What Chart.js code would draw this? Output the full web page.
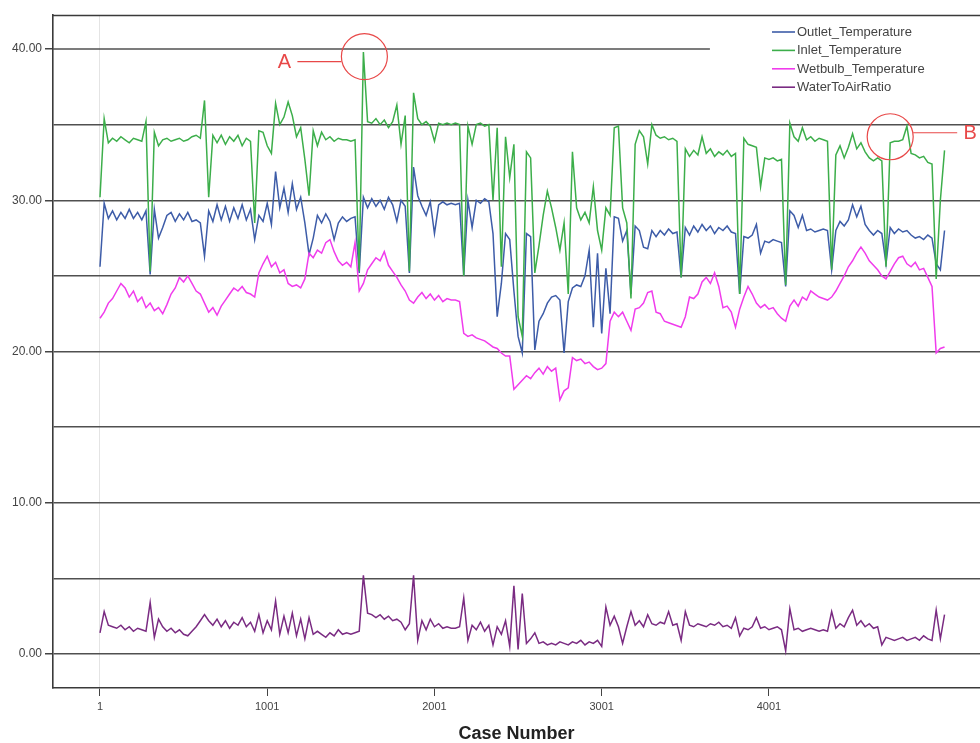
<!DOCTYPE html>
<html>
<head>
<meta charset="utf-8">
<script src="https://cdn.jsdelivr.net/npm/chart.js@4.4.1/dist/chart.umd.min.js"></script>
<style>
html,body{margin:0;padding:0;background:#fff;}
#wrap{width:980px;height:743px;position:relative;}
</style>
</head>
<body>
<div id="wrap"><canvas id="c" width="980" height="743"></canvas></div>
<script>
// Cases are sampled every 25 records, starting at case 1
const caseStart = 1;
const caseStep = 25;

const xTickValues = [1, 1001, 2001, 3001, 4001];
const yGridValues = [0, 5, 10, 15, 20, 25, 30, 35, 40];

const seriesNames = ['Outlet_Temperature', 'Inlet_Temperature', 'Wetbulb_Temperature', 'WaterToAirRatio'];

const outletTemperature = [
  25.6,29.8,28.8,29.3,28.7,29.2,28.8,29.4,28.8,29.2,28.7,29.3,25.1,29.4,27.5,28.2,29.0,29.2,28.6,29.1,
  28.7,29.2,28.6,28.7,28.5,26.3,29.3,28.6,29.7,28.7,29.6,28.6,29.5,28.8,29.7,28.7,29.4,27.4,29.0,28.6,
  29.8,28.4,31.9,29.5,30.8,29.2,31.1,29.4,30.2,28.5,26.4,27.5,29.0,28.5,29.1,28.6,27.4,28.5,28.9,28.6,
  28.8,28.9,25.2,30.2,29.5,30.1,29.6,30.0,29.4,30.2,29.7,28.6,30.0,29.6,25.2,32.2,30.3,29.6,29.0,29.9,
  27.8,29.7,29.9,29.7,29.8,29.7,29.8,25.0,30.0,28.2,30.0,29.8,30.1,29.9,27.8,22.3,24.5,27.8,27.4,24.0,
  21.0,19.9,27.8,27.6,20.1,22.0,22.5,23.2,23.6,23.7,23.4,19.9,23.3,24.2,24.4,24.3,25.0,26.7,21.6,26.5,
  21.2,25.5,22.5,28.9,28.8,27.3,28.0,23.8,28.3,28.0,26.9,26.8,28.0,27.6,28.0,27.7,28.1,27.8,27.9,24.9,
  28.2,27.7,28.3,27.9,28.4,28.0,28.3,27.8,28.2,28.0,28.3,27.9,27.8,23.8,27.6,27.5,27.7,28.4,26.5,27.3,
  27.2,27.4,27.3,27.2,24.3,29.3,29.0,28.2,29.0,28.0,28.1,27.9,28.0,28.1,28.0,25.4,28.0,28.6,28.3,28.7,
  29.7,28.9,29.6,28.4,28.0,27.7,28.0,27.8,25.8,28.2,27.8,28.1,27.9,28.0,27.7,27.5,27.6,27.4,27.7,27.5,
  25.8,25.4,28.0
];

const inletTemperature = [
  30.2,35.4,33.8,34.1,33.9,34.2,34.0,33.8,34.1,34.0,33.9,35.2,25.3,34.5,33.6,34.0,34.1,33.9,34.0,34.1,
  33.9,34.0,34.2,34.3,34.1,36.6,30.2,34.3,33.8,34.3,33.7,34.2,33.9,34.3,33.6,34.1,33.9,28.5,34.6,34.5,
  33.6,33.1,36.4,35.0,35.5,36.5,35.6,34.2,34.8,32.7,30.3,34.6,33.6,34.5,34.0,34.2,33.9,34.1,34.0,34.0,
  33.9,34.0,25.3,39.8,35.2,35.1,35.4,35.0,35.3,34.8,35.2,36.3,33.7,35.6,25.3,37.1,35.4,35.0,35.2,34.9,
  33.9,35.1,35.0,35.1,35.0,35.1,35.0,25.0,34.9,33.7,35.0,35.1,34.9,35.0,30.0,34.8,25.6,34.2,31.5,33.7,
  22.3,21.0,33.2,32.8,25.2,27.0,29.0,30.6,29.5,28.2,26.7,28.5,23.8,33.2,29.5,28.7,29.2,28.5,30.9,28.0,
  26.7,29.5,29.0,34.8,34.9,29.5,28.5,23.5,33.7,34.6,34.2,32.4,35.0,34.3,34.1,34.2,34.0,34.1,33.9,24.9,
  33.4,32.9,33.3,33.0,34.2,33.1,33.4,32.9,33.2,33.0,33.3,32.9,33.1,23.8,34.1,33.7,33.6,33.5,30.9,32.8,
  32.7,32.8,32.6,32.7,24.4,35.1,34.2,33.9,34.8,34.0,34.2,33.9,34.1,34.0,33.9,25.4,33.0,33.6,32.8,33.5,
  34.4,33.4,33.8,33.2,32.8,32.6,32.8,32.6,25.6,33.8,33.9,33.9,34.0,34.9,33.1,33.0,32.8,32.9,32.5,32.4,
  24.8,30.0,33.3
];

const wetbulbTemperature = [
  22.2,22.6,23.2,23.5,24.0,24.5,24.2,23.6,24.0,23.3,23.6,22.9,23.2,22.7,22.9,22.5,23.1,23.8,24.2,24.9,
  24.6,25.0,24.5,24.0,23.8,23.2,22.6,22.9,22.4,23.0,23.4,23.8,24.2,24.0,24.3,23.9,23.8,23.6,25.2,25.8,
  26.3,25.6,25.9,25.2,25.4,24.5,24.3,24.4,24.2,24.8,26.5,26.2,26.7,26.5,27.2,27.4,26.6,26.0,25.7,25.9,
  25.6,27.2,24.0,24.5,25.4,25.8,26.2,26.0,26.6,25.7,25.3,24.9,24.4,24.0,23.4,23.2,23.6,23.9,23.5,23.8,
  23.4,23.7,23.3,23.5,23.4,23.4,23.3,21.2,21.0,21.1,20.9,20.8,20.7,20.5,20.3,20.2,19.9,19.7,19.7,17.5,
  17.8,18.1,18.4,18.2,18.6,18.9,18.5,19.0,18.7,18.9,16.8,17.4,17.6,19.6,19.4,19.5,19.2,19.3,19.0,18.8,
  18.9,19.2,22.0,22.6,22.3,22.6,22.0,21.4,22.8,22.9,23.2,23.9,24.0,22.6,22.5,22.0,21.9,21.8,21.7,21.6,
  22.3,23.6,23.5,23.8,24.6,24.9,24.5,25.2,24.3,22.9,23.0,22.6,21.6,22.8,23.6,24.3,23.8,23.2,22.9,23.1,
  22.8,22.9,22.5,22.2,22.0,23.0,23.4,23.0,23.6,23.4,24.0,23.8,23.6,23.5,23.4,23.6,24.0,24.5,25.0,25.6,
  26.0,26.5,26.9,26.5,26.0,25.7,25.4,25.0,24.8,25.3,25.8,26.2,26.3,25.8,25.6,25.9,25.4,25.5,24.9,24.3,
  19.9,20.2,20.3
];

const waterToAirRatio = [
  1.4,2.8,1.9,1.8,1.7,1.9,1.6,1.8,1.5,1.7,1.6,1.5,3.4,1.1,2.3,1.8,1.5,1.7,1.4,1.6,
  1.3,1.2,1.5,1.8,2.2,2.6,2.2,1.9,2.3,1.8,2.2,1.7,2.1,1.9,2.4,1.8,2.1,1.5,2.6,1.4,
  2.2,1.6,3.5,1.3,2.5,1.4,2.7,1.2,2.3,1.0,2.4,1.3,1.5,1.3,1.1,1.4,1.2,1.6,1.3,1.4,
  1.3,1.4,1.5,5.2,2.7,2.6,2.4,2.6,2.3,2.5,2.2,2.3,2.1,1.6,2.0,5.2,0.9,2.2,1.6,2.3,
  1.8,2.0,1.7,1.8,1.7,1.7,1.8,3.7,0.9,1.9,1.6,2.1,1.5,1.9,0.6,1.8,1.3,2.2,0.5,4.5,
  0.3,4.0,0.7,1.0,1.4,0.7,0.8,0.6,0.7,0.6,0.8,0.7,0.6,0.8,0.7,0.9,0.6,0.8,0.7,0.9,
  0.5,3.1,1.9,2.5,1.8,0.7,1.8,2.8,1.9,2.2,1.8,2.6,2.0,1.9,2.1,2.0,2.8,1.9,2.0,0.9,
  2.8,1.9,1.8,2.0,1.9,1.8,2.0,1.9,2.1,1.8,1.9,1.7,2.4,1.2,1.7,1.6,1.8,2.4,1.7,1.8,
  1.6,1.7,1.8,1.6,0.2,3.0,1.6,1.7,1.5,1.6,1.7,1.6,1.5,1.6,1.5,2.8,1.7,2.0,1.8,2.4,
  2.9,1.9,2.2,1.8,2.0,1.7,1.8,0.6,1.1,1.0,0.9,1.0,1.1,0.9,1.0,1.1,0.9,1.2,1.0,0.9,
  2.9,1.0,2.6
];

const seriesColors = ['#3d5ca8', '#3cae4a', '#f03cec', '#7a2b82'];

// Reference line at 40 runs only part of the way across
const refLineValue = 40;
const refLineEndCase = 3648;

// Highlighted readings
const callouts = [
  { label: 'A', caseNo: 1582, value: 39.5, side: -1, dy: 5 },
  { label: 'B', caseNo: 4726, value: 34.2, side: 1, dy: -4 }
];

const caseNumbers = outletTemperature.map((_, i) => caseStart + i * caseStep);
const toPoints = vals => vals.map((v, i) => ({ x: caseNumbers[i], y: v }));

const FONT = "'Liberation Sans', Arial, sans-serif";

const frameAndNotes = {
  id: 'frameAndNotes',
  afterDatasetsDraw(chart) {
    const { ctx, chartArea: a, scales: { x, y } } = chart;
    ctx.save();
    // top frame line
    ctx.strokeStyle = '#3a3a3a';
    ctx.lineWidth = 1.6;
    ctx.beginPath();
    ctx.moveTo(a.left, a.top + 0.5);
    ctx.lineTo(a.right, a.top + 0.5);
    ctx.stroke();
    // partial reference line
    ctx.strokeStyle = '#505050';
    ctx.lineWidth = 1.5;
    const ry = y.getPixelForValue(refLineValue);
    ctx.beginPath();
    ctx.moveTo(a.left, ry);
    ctx.lineTo(x.getPixelForValue(refLineEndCase), ry);
    ctx.stroke();

    // callouts
    ctx.strokeStyle = 'rgb(232,72,72)';
    ctx.fillStyle = 'rgb(232,72,72)';
    ctx.lineWidth = 1.2;
    ctx.font = '20px ' + FONT;
    ctx.textAlign = 'center';
    ctx.textBaseline = 'middle';
    const r = 23;
    callouts.forEach(c => {
      const cx = x.getPixelForValue(c.caseNo);
      const cy = y.getPixelForValue(c.value);
      ctx.beginPath();
      ctx.arc(cx, cy, r, 0, Math.PI * 2);
      ctx.stroke();
      const ly = cy + c.dy;
      const x0 = cx + c.side * r;
      const x1 = x0 + c.side * 44;
      ctx.beginPath();
      ctx.moveTo(x0, ly);
      ctx.lineTo(x1, ly);
      ctx.stroke();
      ctx.fillText(c.label, x1 + c.side * 13, ly + 1);
    });

    // legend
    ctx.font = '13px ' + FONT;
    ctx.textAlign = 'left';
    ctx.textBaseline = 'middle';
    const lx = 772, ly0 = 32, step = 18.4;
    seriesNames.forEach((name, i) => {
      const yy = ly0 + i * step;
      ctx.strokeStyle = seriesColors[i];
      ctx.lineWidth = 1.6;
      ctx.beginPath();
      ctx.moveTo(lx, yy);
      ctx.lineTo(lx + 23, yy);
      ctx.stroke();
      ctx.fillStyle = '#444';
      ctx.fillText(name, lx + 25, yy + 0.5);
    });
    ctx.restore();
  }
};

const seriesValues = [outletTemperature, inletTemperature, wetbulbTemperature, waterToAirRatio];
const drawOrder = [3, 2, 1, 0];

new Chart(document.getElementById('c'), {
  type: 'line',
  data: {
    datasets: seriesNames.map((name, i) => ({
      label: name,
      data: toPoints(seriesValues[i]),
      borderColor: seriesColors[i],
      backgroundColor: seriesColors[i],
      borderWidth: 1.5,
      pointRadius: 0,
      tension: 0,
      fill: false,
      order: drawOrder[i]
    }))
  },
  options: {
    responsive: false,
    animation: false,
    devicePixelRatio: 1,
    layout: { padding: { top: 15, right: 0, left: 0, bottom: 0 } },
    plugins: { legend: { display: false }, tooltip: { enabled: false } },
    scales: {
      x: {
        type: 'linear',
        min: -280,
        max: 5263,
        afterFit(s) { s.height = 55; },
        afterBuildTicks(s) { s.ticks = xTickValues.map(v => ({ value: v })); },
        ticks: {
          autoSkip: false,
          maxRotation: 0,
          padding: 4,
          color: '#444',
          font: { family: FONT, size: 11 },
          callback: v => String(v)
        },
        grid: {
          drawOnChartArea: true,
          color: c => (c.tick && c.tick.value === 1 ? '#e4e4e4' : 'rgba(0,0,0,0)'),
          tickColor: '#444',
          tickLength: 8,
          lineWidth: 1
        },
        border: { display: true, color: '#3a3a3a', width: 1.6 },
        title: {
          display: true,
          text: 'Case Number',
          color: '#222',
          font: { family: FONT, size: 18, weight: 'bold', lineHeight: 1 },
          padding: { top: 0, bottom: 0 }
        }
      },
      y: {
        type: 'linear',
        min: -2.25,
        max: 42.25,
        afterFit(s) { s.width = 53; },
        afterBuildTicks(s) { s.ticks = yGridValues.map(v => ({ value: v })); },
        ticks: {
          autoSkip: false,
          padding: 3,
          color: '#444',
          font: { family: FONT, size: 12 },
          callback: v => (v % 10 === 0 ? v.toFixed(2) : '')
        },
        grid: {
          color: c => (c.tick && c.tick.value === refLineValue ? 'rgba(0,0,0,0)' : '#505050'),
          tickColor: c => (c.tick && c.tick.value % 10 === 0 ? '#444' : 'rgba(0,0,0,0)'),
          tickLength: 8,
          lineWidth: 1.5
        },
        border: { display: true, color: '#3a3a3a', width: 1.6 }
      }
    }
  },
  plugins: [frameAndNotes]
});
</script>
</body>
</html>
